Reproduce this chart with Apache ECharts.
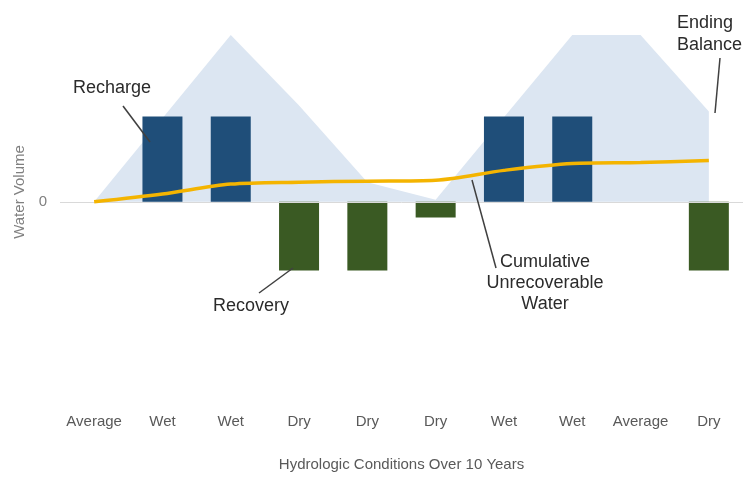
<!DOCTYPE html>
<html>
<head>
<meta charset="utf-8">
<script src="https://cdn.jsdelivr.net/npm/echarts@6/dist/echarts.min.js"></script>
<style>
html,body{margin:0;padding:0;background:#fff;}
#chart{width:743px;height:477px;}
</style>
</head>
<body>
<div id="chart"></div>
<script>
// Data (arbitrary water-volume units)
var categories = ['Average', 'Wet', 'Wet', 'Dry', 'Dry', 'Dry', 'Wet', 'Wet', 'Average', 'Dry'];
var recharge = [null, 87, 87, null, null, null, 87, 87, null, null];
var recovery = [null, null, null, -70, -70, -16, null, null, null, -70];
var bankedStorage = [0, 85, 170, 98, 20, 2, 86, 170, 170, 92];
var unrecoverable = [0, 8, 18, 20, 21, 22, 32, 39, 40, 42];
var yTicks = [0];

var font = '"Liberation Sans", Arial, sans-serif';
var annColor = '#2b2b2b';

var chart = echarts.init(document.getElementById('chart'), null, {renderer: 'canvas'});
chart.setOption({
  animation: false,
  backgroundColor: '#ffffff',
  grid: {left: 60, top: 30, width: 689, height: 380},
  xAxis: {
    type: 'category',
    data: categories,
    boundaryGap: true,
    axisLine: {show: false},
    axisTick: {show: false},
    axisLabel: {interval: 0, margin: 11, color: '#595959', fontSize: 15, fontFamily: font},
    name: 'Hydrologic Conditions Over 10 Years',
    nameLocation: 'middle',
    nameGap: 54,
    nameTextStyle: {color: '#595959', fontSize: 15, fontFamily: font}
  },
  yAxis: {
    type: 'value',
    min: -205,
    max: 175,
    interval: 205,
    axisLine: {show: false},
    axisTick: {show: false},
    splitLine: {show: false},
    axisLabel: {
      margin: 13, color: '#808080', fontSize: 15, fontFamily: font,
      formatter: function (v) { return yTicks.indexOf(v) >= 0 ? String(v) : ''; }
    }
  },
  series: [
    {
      name: 'Banked Water Storage',
      type: 'line',
      data: bankedStorage,
      symbol: 'none',
      lineStyle: {width: 0, opacity: 0},
      areaStyle: {color: '#dce6f2', opacity: 1},
      z: 1,
      markLine: {
        silent: true,
        symbol: 'none',
        label: {show: false},
        lineStyle: {color: '#d9d9d9', width: 1, type: 'solid'},
        data: [{yAxis: 0}]
      }
    },
    {
      name: 'Recharge',
      type: 'bar',
      stack: 'flow',
      data: recharge,
      barWidth: 40,
      itemStyle: {color: '#1f4e79'},
      z: 3
    },
    {
      name: 'Recovery',
      type: 'bar',
      stack: 'flow',
      data: recovery,
      barWidth: 40,
      itemStyle: {color: '#3a5a23'},
      z: 3
    },
    {
      name: 'Cumulative Unrecoverable Water',
      type: 'line',
      data: unrecoverable,
      symbol: 'none',
      smooth: 0.3,
      lineStyle: {color: '#f4b400', width: 3.5},
      z: 5
    }
  ],
  graphic: [
    {type: 'text', x: 20, y: 192, rotation: Math.PI / 2,
     style: {text: 'Water Volume', fill: '#808080', font: '15px ' + font, textAlign: 'center', textVerticalAlign: 'middle'}},
    {type: 'text', x: 112, y: 88,
     style: {text: 'Recharge', fill: annColor, font: '18px ' + font, textAlign: 'center', textVerticalAlign: 'middle'}},
    {type: 'line', shape: {x1: 123, y1: 106, x2: 150, y2: 142}, style: {stroke: '#404040', lineWidth: 1.5}, z: 10},
    {type: 'text', x: 251, y: 306,
     style: {text: 'Recovery', fill: annColor, font: '18px ' + font, textAlign: 'center', textVerticalAlign: 'middle'}},
    {type: 'line', shape: {x1: 293, y1: 268, x2: 259, y2: 293}, style: {stroke: '#404040', lineWidth: 1.5}, z: 10},
    {type: 'text', x: 637, y: 108,
     style: {text: 'Banked\nWater\nStorage', fill: annColor, font: '18px ' + font, lineHeight: 20.5, textAlign: 'center', textVerticalAlign: 'middle'}},
    {type: 'text', x: 677, y: 34,
     style: {text: 'Ending\nBalance', fill: annColor, font: '18px ' + font, lineHeight: 22, textAlign: 'left', textVerticalAlign: 'middle'}},
    {type: 'line', shape: {x1: 720, y1: 58, x2: 715, y2: 113}, style: {stroke: '#404040', lineWidth: 1.5}, z: 10},
    {type: 'text', x: 545, y: 283,
     style: {text: 'Cumulative\nUnrecoverable\nWater', fill: annColor, font: '18px ' + font, lineHeight: 21, textAlign: 'center', textVerticalAlign: 'middle'}},
    {type: 'line', shape: {x1: 472, y1: 180, x2: 496, y2: 268}, style: {stroke: '#404040', lineWidth: 1.5}, z: 10}
  ]
});
</script>
</body>
</html>
